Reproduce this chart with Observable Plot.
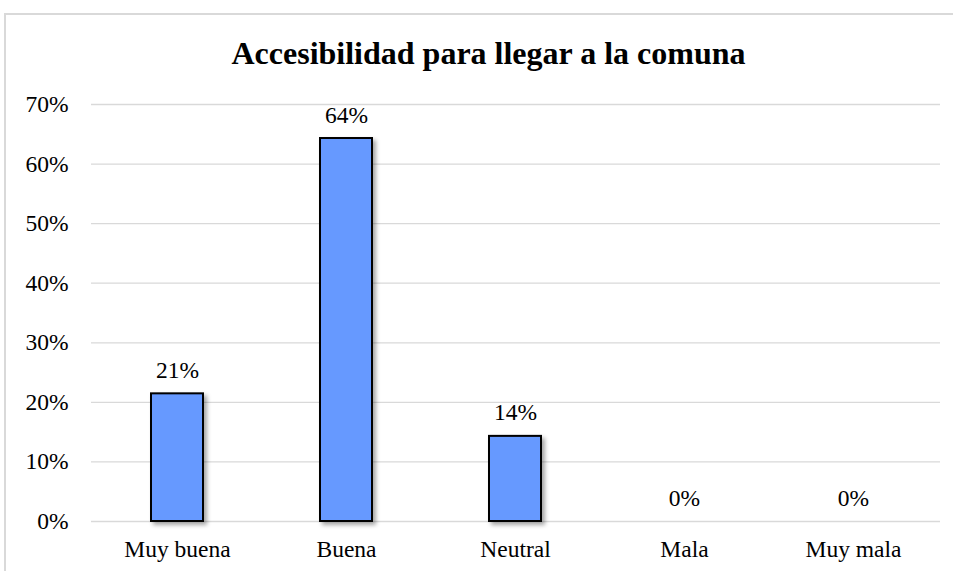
<!DOCTYPE html>
<html>
<head>
<meta charset="utf-8">
<script src="https://cdn.jsdelivr.net/npm/d3@7"></script>
<script src="https://cdn.jsdelivr.net/npm/@observablehq/plot@0.6"></script>
<style>
  body { margin: 0; background: #fff; }
  #wrap { position: relative; width: 953px; height: 571px; overflow: hidden; background: #fff; }
  #frame { position: absolute; left: 4px; top: 13px; width: 1000px; height: 600px;
           border-left: 2px solid #d9d9d9; border-top: 2px solid #d9d9d9; }
  #title { position: relative; height: 80px; }
  #title div { position: absolute; left: 24px; right: 0; top: 38px; text-align: center;
               font-family: "Liberation Serif", "Times New Roman", serif; font-weight: bold;
               font-size: 32px; line-height: 31px; color: #000; }
  #chart { position: relative; }
  #chart svg, #chart svg text { font-family: "Liberation Serif", "Times New Roman", serif !important; }
  #chart svg g[aria-label="bar"] { filter: drop-shadow(3px 3px 2px rgba(0,0,0,0.35)); }
</style>
</head>
<body>
<div id="wrap">
  <div id="frame"></div>
  <div id="title"><div>Accesibilidad para llegar a la comuna</div></div>
  <div id="chart"></div>
</div>
<script>
const categories = ["Muy buena", "Buena", "Neutral", "Mala", "Muy mala"];
const values = [0.2143, 0.6429, 0.1429, 0, 0];
const valueLabels = ["21%", "64%", "14%", "0%", "0%"];
const yTicks = [0, 0.1, 0.2, 0.3, 0.4, 0.5, 0.6, 0.7];
const yTickLabels = ["0%", "10%", "20%", "30%", "40%", "50%", "60%", "70%"];

const data = categories.map((c, i) => ({cat: c, value: values[i], label: valueLabels[i]}));
const font = "Liberation Serif, Times New Roman, serif";

const chart = Plot.plot({
  width: 953,
  height: 491,
  marginTop: 24,
  marginBottom: 50,
  marginLeft: 91,
  marginRight: 13,
  style: {fontFamily: font, fontSize: "23.5px", color: "#000", background: "transparent", overflow: "visible"},
  x: {domain: categories, paddingInner: 0.69, paddingOuter: 0.345, label: null},
  y: {domain: [0, 0.7], label: null},
  marks: [
    Plot.gridY(yTicks, {stroke: "#d9d9d9", strokeOpacity: 1, strokeWidth: 1.3}),
    Plot.axisY(yTicks, {tickSize: 0, tickPadding: 23, label: null, fontSize: 23.5, fontFamily: font,
      tickFormat: d => yTickLabels[yTicks.indexOf(d)]}),
    Plot.axisX({tickSize: 0, tickPadding: 19, label: null, fontSize: 23.5, fontFamily: font}),
    Plot.barY(data.filter(d => d.value > 0), {x: "cat", y: "value", fill: "#6699ff", stroke: "#000", strokeWidth: 2}),
    Plot.text(data, {x: "cat", y: "value", text: "label", dy: -16, lineAnchor: "bottom", fontSize: 23.5, fontFamily: font, fill: "#000"})
  ]
});
document.getElementById("chart").appendChild(chart);
</script>
</body>
</html>
